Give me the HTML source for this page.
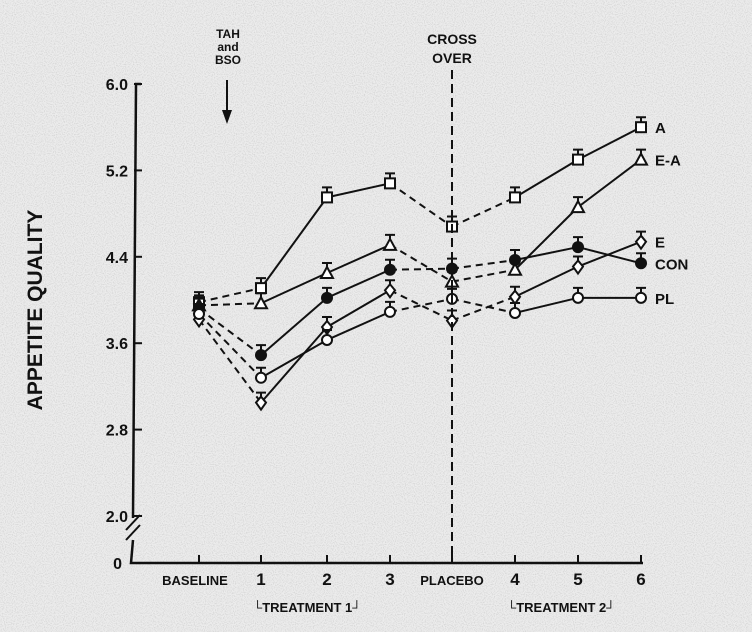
<!DOCTYPE html>
<html><head><meta charset="utf-8"><style>
html,body{margin:0;padding:0;background:#ebebeb;}
svg{display:block;}
text{font-family:"Liberation Sans",sans-serif;font-weight:bold;fill:#111;}
</style></head><body>
<svg id="chart" width="752" height="632" viewBox="0 0 752 632" xmlns="http://www.w3.org/2000/svg">
<defs>
<filter id="grain" x="0" y="0" width="100%" height="100%">
<feTurbulence type="fractalNoise" baseFrequency="0.9" numOctaves="1" seed="3" result="n"/>
<feColorMatrix type="matrix" values="0 0 0 0 0.3  0 0 0 0 0.3  0 0 0 0 0.3  0 0 0 -2.2 1.25"/>
</filter>
</defs>
<rect width="752" height="632" fill="#ececec"/>
<rect width="752" height="632" filter="url(#grain)" opacity="0.35"/>
<g id="axes"></g>
<g id="series"></g>
<text x="42" y="310" font-size="21" text-anchor="middle" transform="rotate(-90 42 310)">APPETITE QUALITY</text>
<text x="228" y="38" font-size="12" text-anchor="middle">TAH</text>
<text x="228" y="51" font-size="12" text-anchor="middle">and</text>
<text x="228" y="64" font-size="12" text-anchor="middle">BSO</text>
<g>
<line x1="227" y1="80" x2="227" y2="118" stroke="#111" stroke-width="2"/>
<polygon points="222,110 232,110 227,124" fill="#111"/>
</g>
<text x="452" y="44" font-size="14" text-anchor="middle">CROSS</text>
<text x="452" y="63" font-size="14" text-anchor="middle">OVER</text>
<line x1="452" y1="70" x2="452" y2="563" stroke="#111" stroke-width="2" stroke-dasharray="9,5"/>
<text x="253" y="612" font-size="13">└TREATMENT 1┘</text>
<text x="507" y="612" font-size="13">└TREATMENT 2┘</text>
</svg>
<script>
const categories = ["BASELINE","1","2","3","PLACEBO","4","5","6"];
const yTicks = [6.0, 5.2, 4.4, 3.6, 2.8, 2.0];
const seriesNames = ["A","E-A","E","CON","PL"];
const valuesA   = [3.98, 4.11, 4.95, 5.08, 4.68, 4.95, 5.30, 5.60];
const valuesEA  = [3.95, 3.97, 4.25, 4.51, 4.17, 4.28, 4.86, 5.30];
const valuesE   = [3.82, 3.05, 3.75, 4.09, 3.81, 4.03, 4.31, 4.54];
const valuesCON = [3.92, 3.49, 4.02, 4.28, 4.29, 4.37, 4.49, 4.34];
const valuesPL  = [3.87, 3.28, 3.63, 3.89, 4.01, 3.88, 4.02, 4.02];
const dashedSegments = [true, false, false, true, true, false, false];

const NS = "http://www.w3.org/2000/svg";
const xPos = [199, 261, 327, 390, 452, 515, 578, 641];
function xScale(i){ return xPos[i]; }
function yScale(v){ return 84 + (6 - v) * 108; }
function mk(tag, attrs, parent){ const e=document.createElementNS(NS,tag); for(const k in attrs) e.setAttribute(k, attrs[k]); parent.appendChild(e); return e; }

const axes = document.getElementById('axes');
const yAxis = mk('path',{d:"M141 84 L136 84 L133 518 M133 540 L131 563 L643 563",fill:"none",stroke:"#111","stroke-width":2.5},axes);


const brk = mk('path',{d:"M126 530 L140 515 M126 540 L140 525",fill:"none",stroke:"#111","stroke-width":2},axes);


yTicks.forEach(t=>{
  const y=yScale(t);
  const tk=mk('line',{x1:134,y1:y,x2:142,y2:y,stroke:"#111","stroke-width":2},axes);
  
  
  const lb=mk('text',{x:128,y:y+6,"font-size":16,"text-anchor":"end"},axes);
  lb.textContent=t.toFixed(1);
  
  
});
const zl=mk('text',{x:122,y:569,"font-size":16,"text-anchor":"end"},axes);
zl.textContent="0";


categories.forEach((c,i)=>{
  const x=xScale(i);
  const tk=mk('line',{x1:x,y1:555,x2:x,y2:563,stroke:"#111","stroke-width":2},axes);
  
  
  let lx=x, fs=17;
  if(c==="BASELINE"){lx=195;fs=13;}
  if(c==="PLACEBO"){fs=13;}
  const lb=mk('text',{x:lx,y:585,"font-size":fs,"text-anchor":"middle"},axes);
  lb.textContent=c;
  
  
});

const allValues=[valuesA,valuesEA,valuesE,valuesCON,valuesPL];
const markers=["square","triangle","diamond","filled","circle"];
const sg=document.getElementById('series');
function drawMarker(type,x,y,g){
  const st={stroke:"#111","stroke-width":2,fill:"#fff"};
  let e;
  if(type==="square") e=mk('rect',Object.assign({x:x-5,y:y-5,width:10,height:10},st),g);
  else if(type==="triangle") e=mk('polygon',Object.assign({points:`${x},${y-6} ${x-6},${y+5} ${x+6},${y+5}`},st),g);
  else if(type==="diamond") e=mk('polygon',Object.assign({points:`${x},${y-6} ${x+5},${y} ${x},${y+7} ${x-5},${y}`},st),g);
  else if(type==="filled") e=mk('circle',{cx:x,cy:y,r:6,fill:"#111"},g);
  else e=mk('circle',Object.assign({cx:x,cy:y,r:5},st),g);
  const cap=mk('path',{d:`M${x-5} ${y-10} L${x+5} ${y-10} M${x} ${y-10} L${x} ${y-5}`,stroke:"#111","stroke-width":2,fill:"none"},g);
  return e;
}
allValues.forEach((vals,s)=>{
  const g=mk('g',{},sg);
  
  
  for(let i=0;i<vals.length-1;i++){
    const ln=mk('line',{x1:xScale(i),y1:yScale(vals[i]),x2:xScale(i+1),y2:yScale(vals[i+1]),stroke:"#111","stroke-width":2},g);
    if(dashedSegments[i]) ln.setAttribute('stroke-dasharray','7,5');
    
    
  }
  vals.forEach((v,i)=>{
    const m=drawMarker(markers[s],xScale(i),yScale(v),g);
    
    
  });
  const last=vals[vals.length-1];
  const lb=mk('text',{x:xScale(vals.length-1)+14,y:yScale(last)+6,"font-size":15},g);
  lb.textContent=seriesNames[s];
  
  
});
</script>
</body></html>
